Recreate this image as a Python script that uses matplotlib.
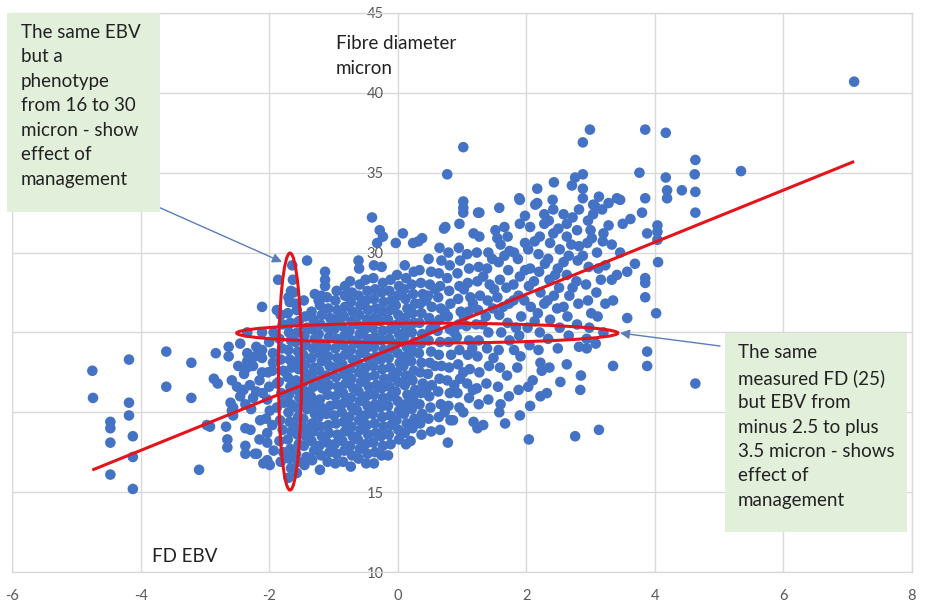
import matplotlib
matplotlib.use("Agg")
import matplotlib.pyplot as plt
from matplotlib.patches import Ellipse, Rectangle
import numpy as np

# ---------------- data ----------------
outliers = [
    (7.10, 40.7), (5.34, 35.1), (4.63, 35.8), (4.62, 34.9), (4.17, 37.5), (3.85, 37.7),
    (4.17, 34.7), (3.85, 33.4), (4.19, 33.9), (4.19, 33.4), (4.42, 33.9), (4.63, 33.8),
    (3.80, 32.5), (4.63, 32.5), (3.88, 31.2), (4.04, 31.7), (4.04, 31.3), (4.04, 30.8),
    (4.05, 29.4), (3.85, 28.4), (3.85, 28.1), (3.85, 27.2), (4.02, 26.2), (3.88, 23.8),
    (3.88, 22.9), (4.63, 21.8), (3.76, 35.0), (2.99, 37.7), (2.88, 36.9), (1.02, 36.6),
    (0.77, 34.9), (1.02, 33.2), (1.02, 32.8), (1.02, 32.5), (1.27, 32.5), (1.58, 32.8),
    (1.89, 33.4), (2.17, 34.0), (2.43, 34.4), (2.14, 33.0), (2.41, 33.3), (2.76, 34.7),
    (2.88, 34.9), (2.88, 34.0), (2.88, 33.4), (2.82, 32.7), (3.13, 33.5), (3.07, 32.9),
    (3.18, 32.7), (3.28, 33.1), (3.41, 33.4), (-0.40, 32.2), (-0.28, 31.4), (0.08, 31.2),
    (0.74, 31.6), (0.96, 31.8), (1.25, 32.5), (-0.23, 31.0), (0.38, 30.9),
]
left_points = [
    (-4.75, 22.6), (-4.74, 20.9), (-4.18, 23.3), (-4.18, 20.6), (-4.18, 19.8), (-4.12, 18.5),
    (-4.47, 19.4), (-4.47, 19.0), (-4.47, 18.1), (-4.12, 17.2), (-4.47, 16.1), (-4.12, 15.2),
    (-3.60, 23.8), (-3.60, 21.6), (-3.21, 23.1), (-3.21, 20.9), (-3.09, 16.4),
    (-2.83, 23.7), (-2.63, 24.1), (-2.63, 23.5), (-2.86, 22.1), (-2.80, 21.8), (-2.58, 22.0),
    (-2.50, 21.6), (-2.40, 21.4), (-2.30, 21.7), (-2.20, 21.3), (-2.92, 19.1), (-2.97, 19.2),
    (-2.67, 19.1), (-2.58, 20.1), (-2.56, 19.8), (-2.65, 18.3), (-2.65, 17.8), (-2.37, 17.9),
    (-2.37, 17.4), (-2.22, 17.4), (-2.37, 19.0), (-2.29, 18.9), (-2.14, 19.5), (-2.05, 19.6),
    (-2.03, 18.7), (-2.03, 18.1), (-2.03, 17.0), (-1.99, 16.7), (-2.56, 20.3), (-2.60, 20.6),
    (-2.37, 20.5), (-2.03, 20.8), (-1.99, 20.1), (-1.88, 20.3), (-1.88, 21.8),
    (-2.34, 23.7), (-2.34, 23.2), (-2.34, 22.8), (-2.39, 22.4), (-2.11, 23.9), (-2.11, 23.4),
    (-1.94, 23.7), (-1.94, 23.1), (-2.11, 22.5), (-2.02, 22.5), (-2.34, 25.0), (-2.11, 25.0),
    (-1.93, 25.0), (-2.11, 26.6), (-1.88, 26.4), (-1.86, 28.3), (-1.63, 28.3), (-1.64, 29.2),
    (-1.41, 29.5), (-1.70, 27.2), (-1.62, 27.5), (-1.59, 26.8), (-1.29, 27.4), (-1.23, 27.0),
    (-2.45, 24.3), (-2.20, 24.1), (-2.00, 24.4), (-2.25, 22.9), (-2.15, 22.0), (-1.95, 22.6),
    (-2.45, 21.0), (-2.25, 20.9), (-2.10, 21.2), (-2.19, 17.4), (-2.09, 16.8), (-1.93, 17.6),
    (-1.13, 27.9), (-1.13, 28.3), (-1.13, 28.8), (-0.97, 27.0), (-0.82, 27.3),
    (-2.48, 22.9), (-2.22, 23.5), (-2.00, 21.6), (-2.28, 20.2), (-2.15, 18.3), (-1.95, 19.2),
]
core_points = [
    (-1.82, 16.9), (-1.78, 17.5), (-1.84, 18.2), (-1.79, 18.9), (-1.83, 19.5), (-1.77, 20.6),
    (-1.81, 21.2), (-1.85, 21.9), (-1.78, 22.6), (-1.82, 23.3), (-1.80, 24.0), (-1.84, 24.6),
    (-1.79, 25.5), (-1.82, 26.1),
    (-1.70, 15.9), (-1.66, 16.5), (-1.69, 17.1), (-1.67, 17.7), (-1.71, 18.3), (-1.65, 18.8),
    (-1.68, 19.4), (-1.70, 20.0), (-1.66, 20.5), (-1.69, 21.1), (-1.67, 21.6), (-1.71, 22.2),
    (-1.65, 22.8), (-1.68, 23.3), (-1.70, 23.9), (-1.66, 24.5), (-1.69, 25.0), (-1.67, 25.6),
    (-1.71, 26.2), (-1.68, 26.9), (-1.66, 27.6),
    (-1.57, 16.2), (-1.55, 16.9), (-1.58, 17.4), (-1.54, 18.0), (-1.56, 18.6), (-1.59, 19.1),
    (-1.55, 19.7), (-1.57, 20.3), (-1.53, 20.9), (-1.56, 21.4), (-1.58, 22.0), (-1.54, 22.7),
    (-1.57, 23.2), (-1.55, 23.8), (-1.59, 24.4), (-1.56, 25.0), (-1.54, 25.7), (-1.57, 26.4),
    (-1.45, 16.7), (-1.42, 17.2), (-1.46, 17.9), (-1.43, 18.5), (-1.44, 19.0), (-1.47, 19.6),
    (-1.41, 20.2), (-1.45, 20.7), (-1.43, 21.3), (-1.46, 21.9), (-1.42, 22.4), (-1.44, 23.0),
    (-1.47, 23.6), (-1.43, 24.2), (-1.45, 24.8), (-1.41, 25.3), (-1.44, 26.0), (-1.46, 27.0),
    (-1.33, 17.0), (-1.30, 17.6), (-1.34, 18.2), (-1.31, 18.8), (-1.33, 19.3), (-1.29, 19.9),
    (-1.32, 20.5), (-1.35, 21.0), (-1.31, 21.6), (-1.33, 22.2), (-1.30, 22.8), (-1.34, 23.4),
    (-1.32, 24.0), (-1.29, 24.6), (-1.33, 25.2), (-1.31, 25.8), (-1.34, 26.3),
    (-1.21, 16.4), (-1.19, 17.3), (-1.22, 17.9), (-1.18, 18.5), (-1.20, 19.1), (-1.23, 19.7),
    (-1.19, 20.3), (-1.21, 20.8), (-1.17, 21.5), (-1.20, 22.0), (-1.22, 22.6), (-1.18, 23.2),
    (-1.21, 23.7), (-1.19, 24.3), (-1.23, 24.9), (-1.20, 25.5), (-1.18, 26.1), (-1.21, 26.7),
    (-1.19, 27.3),
    (-1.09, 16.9), (-1.06, 17.5), (-1.10, 18.1), (-1.07, 18.7), (-1.08, 19.2), (-1.11, 19.9),
    (-1.05, 20.4), (-1.09, 21.1), (-1.07, 21.7), (-1.10, 22.3), (-1.06, 22.9), (-1.08, 23.5),
    (-1.11, 24.1), (-1.07, 24.7), (-1.09, 25.3), (-1.05, 25.9), (-1.08, 26.5), (-1.10, 27.2),
    (-0.97, 16.8), (-0.95, 17.4), (-0.98, 18.0), (-0.94, 18.6), (-0.96, 19.3), (-0.99, 19.8),
    (-0.95, 20.5), (-0.97, 21.0), (-0.93, 21.6), (-0.96, 22.2), (-0.98, 22.8), (-0.94, 23.4),
    (-0.97, 24.0), (-0.95, 24.6), (-0.99, 25.2), (-0.96, 25.8), (-0.94, 26.4), (-0.95, 27.6),
    (-0.85, 16.9), (-0.83, 17.6), (-0.86, 18.2), (-0.82, 18.8), (-0.84, 19.4), (-0.87, 20.0),
    (-0.83, 20.6), (-0.85, 21.2), (-0.81, 21.8), (-0.84, 22.4), (-0.86, 23.0), (-0.82, 23.6),
    (-0.85, 24.2), (-0.83, 24.8), (-0.87, 25.4), (-0.84, 26.0), (-0.82, 26.6), (-0.82, 27.9),
    (-0.73, 16.6), (-0.71, 17.3), (-0.74, 17.9), (-0.70, 18.5), (-0.72, 19.1), (-0.75, 19.7),
    (-0.71, 20.3), (-0.73, 20.9), (-0.69, 21.5), (-0.72, 22.1), (-0.74, 22.7), (-0.70, 23.3),
    (-0.73, 23.9), (-0.71, 24.5), (-0.75, 25.1), (-0.72, 25.7), (-0.70, 26.3), (-0.73, 26.9),
    (-0.71, 27.5), (-0.74, 28.2),
    (-0.61, 17.1), (-0.59, 17.7), (-0.62, 18.3), (-0.58, 18.9), (-0.60, 19.5), (-0.63, 20.1),
    (-0.59, 20.7), (-0.61, 21.3), (-0.57, 21.9), (-0.60, 22.5), (-0.62, 23.1), (-0.58, 23.7),
    (-0.61, 24.3), (-0.59, 24.9), (-0.63, 25.5), (-0.60, 26.1), (-0.58, 26.7), (-0.61, 27.3),
    (-0.59, 28.0), (-0.60, 29.0), (-0.61, 29.5),
    (-0.49, 16.8), (-0.47, 17.4), (-0.50, 18.0), (-0.46, 18.6), (-0.48, 19.2), (-0.51, 19.8),
    (-0.47, 20.4), (-0.49, 21.0), (-0.45, 21.6), (-0.48, 22.2), (-0.50, 22.8), (-0.46, 23.4),
    (-0.49, 24.0), (-0.47, 24.6), (-0.51, 25.2), (-0.48, 25.8), (-0.46, 26.4), (-0.49, 27.0),
    (-0.47, 27.6), (-0.50, 28.3),
    (-0.37, 16.8), (-0.35, 17.5), (-0.38, 18.1), (-0.34, 18.7), (-0.36, 19.3), (-0.39, 19.9),
    (-0.35, 20.5), (-0.37, 21.1), (-0.33, 21.7), (-0.36, 22.3), (-0.38, 22.9), (-0.34, 23.5),
    (-0.37, 24.1), (-0.35, 24.7), (-0.39, 25.3), (-0.36, 25.9), (-0.34, 26.5), (-0.37, 27.1),
    (-0.35, 27.7), (-0.38, 28.4), (-0.37, 29.2), (-0.32, 30.6),
    (-0.25, 17.3), (-0.23, 17.9), (-0.26, 18.5), (-0.22, 19.1), (-0.24, 19.7), (-0.27, 20.3),
    (-0.23, 20.9), (-0.25, 21.5), (-0.21, 22.1), (-0.24, 22.7), (-0.26, 23.3), (-0.22, 23.9),
    (-0.25, 24.5), (-0.23, 25.1), (-0.27, 25.7), (-0.24, 26.3), (-0.22, 26.9), (-0.25, 27.5),
    (-0.23, 28.1), (-0.25, 29.1),
    (-0.15, 17.3), (-0.11, 18.0), (-0.14, 18.6), (-0.10, 19.2), (-0.12, 19.8), (-0.15, 20.4),
    (-0.11, 21.0), (-0.13, 21.6), (-0.09, 22.2), (-0.12, 22.8), (-0.14, 23.4), (-0.10, 24.0),
    (-0.13, 24.6), (-0.11, 25.2), (-0.15, 25.8), (-0.12, 26.4), (-0.10, 27.0), (-0.13, 27.6),
    (-0.11, 28.3),
    (0.02, 18.3), (0.01, 18.9), (-0.02, 19.5), (0.02, 20.1), (0.00, 20.7), (-0.03, 21.3),
    (0.01, 21.9), (-0.01, 22.5), (0.03, 23.1), (0.00, 23.7), (-0.02, 24.3), (0.02, 24.9),
    (-0.01, 25.5), (0.01, 26.1), (-0.03, 26.7), (0.00, 27.3), (0.02, 27.9), (-0.01, 28.6),
    (-0.03, 30.6),
    (0.13, 18.0), (0.11, 18.7), (0.14, 19.3), (0.10, 19.9), (0.12, 20.5), (0.15, 21.1),
    (0.11, 21.7), (0.13, 22.3), (0.09, 22.9), (0.12, 23.5), (0.14, 24.1), (0.10, 24.7),
    (0.13, 25.3), (0.11, 25.9), (0.15, 26.5), (0.12, 27.1), (0.10, 27.7), (0.13, 28.4),
    (0.11, 29.2),
    (0.20, 18.2), (0.23, 19.0), (0.26, 19.6), (0.22, 20.2), (0.24, 20.8), (0.27, 21.4),
    (0.23, 22.0), (0.25, 22.6), (0.21, 23.2), (0.24, 23.8), (0.26, 24.4), (0.22, 25.0),
    (0.25, 25.6), (0.23, 26.2), (0.27, 26.8), (0.24, 27.4), (0.22, 28.0), (0.25, 28.8),
    (0.24, 30.6),
    (0.37, 18.6), (0.35, 19.3), (0.38, 19.9), (0.34, 20.5), (0.36, 21.2), (0.39, 21.8),
    (0.35, 22.5), (0.37, 23.1), (0.33, 23.7), (0.36, 24.3), (0.38, 24.9), (0.34, 25.6),
    (0.37, 26.2), (0.35, 26.8), (0.39, 27.4), (0.36, 28.1), (0.34, 28.9), (0.32, 30.7),
]
right_points = [
    (0.52, 18.8), (0.48, 19.6), (0.51, 20.3), (0.49, 21.0), (0.53, 21.7), (0.47, 22.4),
    (0.50, 23.1), (0.52, 23.8), (0.48, 24.5), (0.51, 25.2), (0.49, 25.9), (0.53, 26.6),
    (0.47, 27.3), (0.50, 28.0), (0.52, 28.8), (0.48, 29.6),
    (0.66, 18.9), (0.64, 19.7), (0.67, 20.5), (0.63, 21.3), (0.65, 22.1), (0.68, 22.9),
    (0.64, 23.6), (0.66, 24.4), (0.62, 25.1), (0.65, 25.8), (0.67, 26.5), (0.63, 27.2),
    (0.66, 27.9), (0.64, 28.7), (0.68, 29.5), (0.65, 30.3), (0.72, 31.5),
    (0.78, 18.1), (0.82, 19.5), (0.79, 20.4), (0.81, 21.2), (0.77, 22.0), (0.80, 22.8),
    (0.83, 23.6), (0.79, 24.4), (0.81, 25.2), (0.78, 26.0), (0.82, 26.8), (0.80, 27.6),
    (0.77, 28.4), (0.81, 29.2), (0.79, 30.0),
    (0.86, 19.5), (0.96, 20.3), (0.93, 21.2), (0.97, 22.1), (0.94, 23.0), (0.96, 23.9),
    (0.92, 24.7), (0.95, 25.5), (0.98, 26.3), (0.94, 27.1), (0.96, 27.9), (0.93, 28.7),
    (0.97, 29.5), (0.95, 30.3),
    (1.02, 20.0), (1.11, 20.9), (1.08, 21.8), (1.12, 22.7), (1.09, 23.6), (1.11, 24.5),
    (1.07, 25.4), (1.10, 26.3), (1.13, 27.2), (1.09, 28.1), (1.11, 29.0), (1.08, 29.9),
    (1.18, 31.2),
    (1.24, 19.0), (1.18, 19.4), (1.26, 20.5), (1.23, 21.5), (1.27, 22.5), (1.24, 23.5),
    (1.26, 24.5), (1.22, 25.5), (1.25, 26.4), (1.28, 27.3), (1.24, 28.2), (1.26, 29.1),
    (1.23, 30.0), (1.27, 31.0),
    (1.33, 19.2), (1.41, 20.8), (1.38, 21.8), (1.42, 22.9), (1.39, 24.0), (1.41, 25.0),
    (1.37, 26.0), (1.40, 27.0), (1.43, 28.0), (1.39, 29.0), (1.41, 30.0), (1.52, 31.4),
    (1.58, 20.0), (1.60, 20.5), (1.56, 21.6), (1.59, 22.8), (1.57, 23.9), (1.61, 25.0),
    (1.58, 26.1), (1.55, 27.2), (1.59, 28.3), (1.57, 29.4), (1.60, 30.5), (1.55, 30.9),
    (1.67, 19.3), (1.73, 21.0), (1.70, 22.3), (1.74, 24.5), (1.71, 25.6), (1.73, 26.8),
    (1.69, 27.8), (1.72, 28.9), (1.74, 30.1), (1.71, 31.0),
    (1.90, 19.8), (1.88, 21.4), (1.86, 22.8), (1.91, 23.5), (1.89, 24.8), (1.92, 26.0),
    (1.88, 27.3), (1.90, 28.5), (1.87, 29.6), (1.90, 31.8), (1.90, 33.3),
    (2.04, 18.3), (2.06, 20.4), (2.03, 21.6), (2.10, 22.0), (2.05, 24.2), (2.02, 25.3),
    (2.07, 26.6), (2.04, 27.9), (2.06, 29.0), (2.03, 30.2), (2.06, 31.6),
    (2.22, 21.0), (2.22, 23.1), (2.24, 22.6), (2.19, 23.9), (2.21, 25.0), (2.18, 26.2),
    (2.22, 27.5), (2.20, 28.8), (2.19, 29.9), (2.21, 31.0), (2.17, 33.1),
    (2.32, 21.2), (2.36, 22.8), (2.34, 24.6), (2.37, 25.8), (2.33, 27.0), (2.36, 28.3),
    (2.34, 29.6), (2.37, 30.6), (2.35, 32.0), (2.42, 32.7), (2.42, 31.2),
    (2.53, 21.9), (2.49, 24.0), (2.52, 25.3), (2.48, 26.5), (2.51, 27.8), (2.49, 29.0),
    (2.52, 30.2), (2.50, 31.5),
    (2.63, 23.0), (2.66, 24.8), (2.64, 26.0), (2.67, 27.3), (2.63, 28.6), (2.66, 29.8),
    (2.63, 31.0), (2.63, 31.8), (2.71, 34.2),
    (2.76, 18.5), (2.85, 22.3), (2.84, 21.4), (2.82, 24.1), (2.79, 25.5), (2.81, 26.8),
    (2.78, 28.2), (2.80, 29.5), (2.82, 30.4), (2.79, 31.4),
    (2.94, 24.0), (2.98, 25.3), (2.94, 24.6), (2.96, 27.0), (2.93, 28.0), (2.97, 29.1),
    (2.95, 30.6), (2.96, 32.0), (3.04, 33.0), (3.04, 32.4),
    (3.13, 18.9), (3.08, 24.3), (3.11, 26.0), (3.09, 27.5), (3.12, 29.0), (3.10, 30.0),
    (3.20, 31.2), (3.20, 25.0), (3.23, 26.8), (3.23, 29.2), (3.19, 30.7), (3.33, 30.5),
    (3.33, 28.3), (3.35, 27.0), (3.35, 22.9), (3.41, 28.6), (3.46, 33.3), (3.50, 31.8),
    (3.57, 25.9), (3.57, 28.8), (3.62, 32.1), (3.69, 29.3), (3.46, 30.0),
    (1.48, 26.5), (1.80, 27.0), (2.12, 28.2), (2.45, 28.6), (2.70, 30.5), (3.02, 30.9),
    (1.66, 29.8), (1.98, 30.6), (2.28, 31.8), (2.58, 32.4), (1.84, 25.3), (2.28, 26.8),
]
extra_points = [
    (1.03, 27.7), (1.17, 26.8), (1.33, 28.5), (1.47, 29.6), (1.16, 24.0), (1.32, 25.5),
    (1.49, 23.4), (1.64, 26.6), (1.80, 28.0), (1.97, 27.0), (1.81, 23.9), (1.98, 28.9),
    (2.13, 25.7), (2.29, 29.3), (2.43, 27.3), (2.58, 26.6), (2.72, 27.8), (2.88, 29.8),
    (3.01, 26.2), (3.16, 28.3), (2.58, 29.4), (2.13, 30.7), (1.81, 30.0), (1.50, 27.7),
    (1.17, 21.4), (1.02, 22.5), (0.88, 21.7), (0.73, 20.0), (0.58, 22.9), (0.44, 21.4),
    (0.58, 25.5), (0.73, 26.3), (0.88, 25.0), (1.03, 26.0), (0.44, 27.0), (0.58, 27.7),
    (3.28, 31.7), (3.00, 31.4), (2.72, 32.2), (2.28, 32.4), (1.98, 32.3), (1.66, 31.6),
]

# trend line
trend_slope = 1.63
trend_intercept = 24.13

# ellipse annotations: (centre x, centre y, width, height)
vertical_ellipse = (-1.675, 22.55, 0.36, 14.84)
horizontal_ellipse = (0.46, 24.96, 5.93, 1.25)

xticks = [-6, -4, -2, 0, 2, 4, 6, 8]
yticks = [10, 15, 20, 25, 30, 35, 40, 45]

note_left = "The same EBV\nbut a\nphenotype\nfrom 16 to 30\nmicron - show\neffect of\nmanagement"
note_right = ("The same\nmeasured FD (25)\nbut EBV from\nminus 2.5 to plus\n"
              "3.5 micron - shows\neffect of\nmanagement")
y_title = "Fibre diameter\nmicron"
x_title = "FD EBV"

# ---------------- figure ----------------
W, H = 926, 606
plt.rcParams['font.family'] = ['Lato', 'DejaVu Sans']
fig = plt.figure(figsize=(W / 100, H / 100), dpi=100)
fig.patch.set_facecolor('white')


def fx(px):
    return px / W


def fy(py):
    return 1 - py / H


ax = fig.add_axes([fx(12), fy(572), fx(912) - fx(12), fy(13) - fy(572)])

all_pts = outliers + left_points + core_points + right_points + extra_points
xs = np.array([p[0] for p in all_pts])
ys = np.array([p[1] for p in all_pts])

ax.scatter(xs, ys, s=58, color='#4472C4', edgecolors='none', zorder=3)

xl = np.array([xs.min(), xs.max()])
ax.plot(xl, trend_intercept + trend_slope * xl, color='#E3141B', lw=2.2, zorder=4,
        solid_capstyle='butt')

for (cx, cy, w, h) in (vertical_ellipse, horizontal_ellipse):
    ax.add_patch(Ellipse((cx, cy), w, h, fill=False, edgecolor='#E3141B', lw=2.2, zorder=4))

ax.set_xlim(-6, 8)
ax.set_ylim(10, 45)
ax.set_xticks(xticks)
ax.set_yticks(yticks)
ax.set_xticklabels([str(v) for v in xticks])
ax.set_yticklabels([str(v) for v in yticks])
ax.grid(True, color='#D9D9D9', lw=1, zorder=0)
ax.set_axisbelow(True)
for side in ('top', 'right', 'bottom'):
    ax.spines[side].set_color('#D9D9D9')
    ax.spines[side].set_linewidth(1)
ax.spines['left'].set_position(('data', 0))
ax.spines['left'].set_visible(False)
ax.tick_params(axis='both', length=0, labelsize=10.5, labelcolor='#595959')
ax.tick_params(axis='y', pad=10)
ax.tick_params(axis='x', pad=12)
# left border line at x = -6
ax.axvline(-6, color='#D9D9D9', lw=1, zorder=0)

# axis titles
fig.text(fx(336), fy(35), y_title, fontsize=13.5, color='#222222', va='top', ha='left',
         linespacing=1.6)
fig.text(fx(152), fy(557), x_title, fontsize=13.5, color='#222222', va='center', ha='left')

# annotation boxes
fig.patches.append(Rectangle((fx(7), fy(212)), fx(160) - fx(7), fy(13) - fy(212),
                             transform=fig.transFigure, facecolor='#E2EFDA',
                             edgecolor='none', zorder=5))
fig.text(fx(21), fy(24), note_left, fontsize=13.5, color='#222222', va='top', ha='left',
         linespacing=1.53, zorder=6)
fig.patches.append(Rectangle((fx(725), fy(532)), fx(907) - fx(725), fy(333) - fy(532),
                             transform=fig.transFigure, facecolor='#E2EFDA',
                             edgecolor='none', zorder=5))
fig.text(fx(738), fy(344), note_right, fontsize=13.5, color='#222222', va='top', ha='left',
         linespacing=1.53, zorder=6)

# arrows
arrow_style = dict(arrowstyle='-|>', color='#5B7DB8', lw=1.0, mutation_scale=14,
                   shrinkA=0, shrinkB=0)
ax.annotate('', xy=(fx(282), fy(262)), xycoords='figure fraction',
            xytext=(fx(156), fy(206)), textcoords='figure fraction',
            arrowprops=arrow_style, zorder=5)
ax.annotate('', xy=(fx(620), fy(333)), xycoords='figure fraction',
            xytext=(fx(720), fy(346)), textcoords='figure fraction',
            arrowprops=arrow_style, zorder=5)

fig.savefig('out.png', dpi=100)
